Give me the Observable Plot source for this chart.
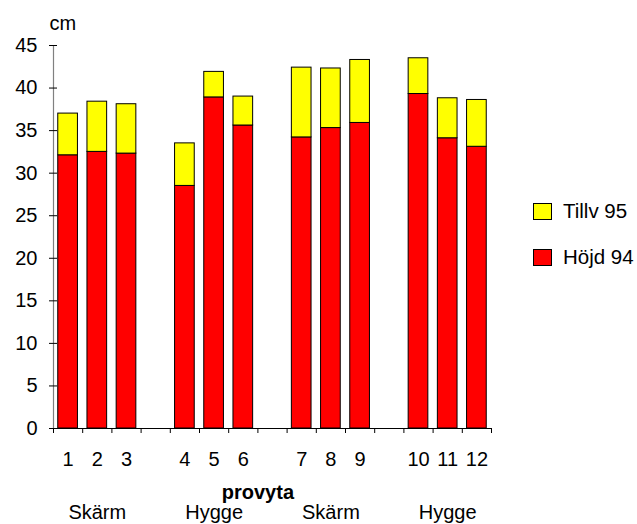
<!DOCTYPE html>
<html>
<head>
<meta charset="utf-8">
<script src="https://cdn.jsdelivr.net/npm/d3@7"></script>
<script src="https://cdn.jsdelivr.net/npm/@observablehq/plot@0.6"></script>
<style>
  body { margin: 0; background: #fff; font-family: "Liberation Sans", Arial, sans-serif; }
  #wrap { position: relative; width: 637px; height: 524px; overflow: hidden; }
  .leg { position: absolute; left: 533px; display: flex; align-items: center; font-size: 20.5px; color: #000; }
  .sw { width: 17px; height: 15px; border: 1px solid #000; margin-right: 11px; }
</style>
</head>
<body>
<div id="wrap"></div>
<script>
// Data
const provyta = ["1","2","3","4","5","6","7","8","9","10","11","12"];
const groups = ["Skärm","Hygge","Skärm","Hygge"];
const hojd94  = [32.1, 32.5, 32.3, 28.5, 38.9, 35.6, 34.2, 35.3, 35.9, 39.3, 34.1, 33.1];
const tillv95 = [ 4.9,  5.9,  5.8,  5.0,  3.0,  3.4,  8.2,  7.0,  7.4,  4.2,  4.7,  5.5];
const seriesNames = ["Höjd 94", "Tillv 95"];
const seriesColors = ["#ff0000", "#ffff00"];
const yTicks = [0,5,10,15,20,25,30,35,40,45];

// Layout: 3 plots per group, one empty slot between groups
const perGroup = 3, slotsPerGroup = 4;
const nSlots = groups.length * slotsPerGroup - 1;
const slotOf = i => Math.floor(i / perGroup) * slotsPerGroup + (i % perGroup);

const rows = [];
seriesNames.forEach((s, si) => {
  const vals = si === 0 ? hojd94 : tillv95;
  provyta.forEach((p, i) => rows.push({provyta: p, slot: slotOf(i), serie: s, value: vals[i]}));
});
const labels = provyta.map((p, i) => ({text: p, slot: slotOf(i)}));
const groupLabels = groups.map((g, gi) => ({text: g, slot: gi * slotsPerGroup + (perGroup - 1) / 2}));
const barPad = 0.163;

const chart = Plot.plot({
  width: 637,
  height: 524,
  marginLeft: 53,
  marginRight: 146,
  marginTop: 45,
  marginBottom: 96,
  style: {fontFamily: "Liberation Sans, Arial, sans-serif", fontSize: "20px", color: "#000", background: "#fff", overflow: "visible"},
  x: {domain: [0, nSlots], label: null},
  y: {domain: [0, 45], label: null},
  color: {domain: seriesNames, range: seriesColors},
  marks: [
    Plot.rectY(rows, Plot.stackY({
      x1: d => d.slot + barPad, x2: d => d.slot + 1 - barPad,
      y: "value", z: "serie", order: seriesNames,
      fill: "serie", stroke: "#000", strokeWidth: 1
    })),
    Plot.ruleX([0], {stroke: "#808080", strokeWidth: 1.2}),
    Plot.ruleY([0], {stroke: "#000", strokeWidth: 1}),
    Plot.axisY({ticks: yTicks, tickSize: 8, dx: 4, tickPadding: 12, stroke: "#000", label: null}),
    Plot.axisX({ticks: d3.range(0, nSlots + 1), tickSize: 5, tickFormat: () => "", stroke: "#000", label: null}),
    Plot.text(labels, {x: d => d.slot + 0.5, text: "text", frameAnchor: "bottom", dy: 37, fill: "#000"}),
    Plot.text(["provyta"], {frameAnchor: "bottom", x: [nSlots / 2 - 0.5], text: d => d, dy: 70, fontWeight: "bold", fill: "#000"}),
    Plot.text(groupLabels, {x: d => d.slot + 0.5, text: "text", frameAnchor: "bottom", dy: 90, fill: "#000"}),
    Plot.text(["cm"], {frameAnchor: "top-left", text: d => d, textAnchor: "start", dx: -4, dy: -30, fill: "#000"})
  ]
});
const wrap = document.getElementById("wrap");
wrap.appendChild(chart);

// Legend (Tillv 95 above Höjd 94)
[[1, 211], [0, 257]].forEach(([si, y]) => {
  const d = document.createElement("div");
  d.className = "leg";
  d.style.top = (y - 11) + "px";
  d.style.height = "22px";
  d.innerHTML = `<div class="sw" style="background:${seriesColors[si]}"></div><span>${seriesNames[si]}</span>`;
  wrap.appendChild(d);
});
</script>
</body>
</html>
